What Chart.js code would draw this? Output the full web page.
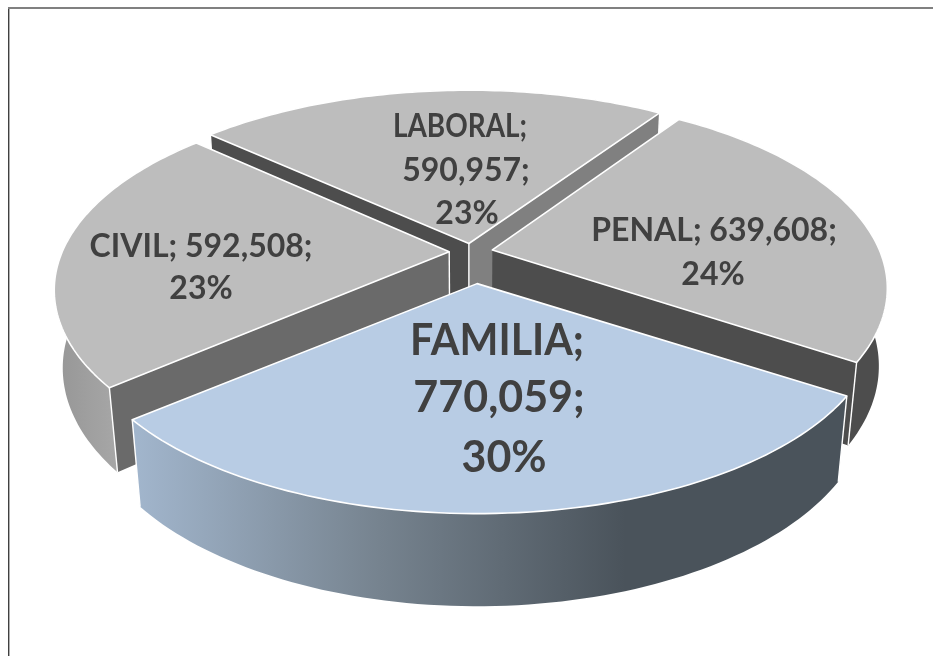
<!DOCTYPE html>
<html>
<head>
<meta charset="utf-8">
<title>Pie</title>
<script src="https://cdn.jsdelivr.net/npm/chart.js@4/dist/chart.umd.js"></script>
<style>
body { margin: 0; background: #fff; overflow: hidden; }
canvas { display: block; }
</style>
</head>
<body>
<canvas id="pieChart" width="933" height="656"></canvas>
<script>
const categories = ['FAMILIA', 'CIVIL', 'LABORAL', 'PENAL'];
const seriesValues = [770059, 592508, 590957, 639608];
const percents = [30, 23, 23, 24];

// exploded distance of each slice, in chart pixels
const sliceOffsets = [52, 17, 14, 17];
const topColors = ['#b8cce4', '#bdbdbd', '#bdbdbd', '#bdbdbd'];
const drawOrder = [2, 3, 1, 0];

// perspective used to lay the flat pie down
const view = { cx: 471, cy: 252, ax: 387, by: 184, p: 0.2, q: 0.02, h: 78 };
const sliceWidthScale = [1.015, 1, 1.022, 1];
const sliceShiftX = [2, 0, 0, 0];

function projectPoint(el, index, angle, radius) {
    const R = el.outerRadius;
    const mid = (el.startAngle + el.endAngle) / 2;
    const d = el.options.offset / R;
    const u = Math.cos(angle) * radius / R;
    const v = Math.sin(angle) * radius / R;
    const ox = view.ax * d * Math.cos(mid) + sliceShiftX[index];
    const oy = view.by * d * Math.sin(mid);
    const w = 1 - view.p * v;
    const x = view.ax * sliceWidthScale[index] * u / w;
    const y = view.by * v / w;
    const vv = v + d * Math.sin(mid);
    const ww = 1 - view.p * vv;
    const f = ww / (ww + view.q);
    return {
        top: { x: view.cx + ox + x, y: view.cy + oy + y },
        bottom: { x: view.cx + (ox + x) * f, y: view.cy + (oy + y) * f + view.h / (ww + view.q) }
    };
}

function fillPath(ctx, points, fill) {
    ctx.beginPath();
    points.forEach((pt, i) => (i ? ctx.lineTo(pt.x, pt.y) : ctx.moveTo(pt.x, pt.y)));
    ctx.closePath();
    ctx.fillStyle = fill;
    ctx.fill();
}

function edgeLine(ctx, a) {
    ctx.beginPath();
    ctx.moveTo(a.top.x, a.top.y);
    ctx.lineTo(a.bottom.x, a.bottom.y);
    ctx.stroke();
}

function horizontalGradient(ctx, x0, x1, stops) {
    const g = ctx.createLinearGradient(x0, 0, x1, 0);
    stops.forEach(s => g.addColorStop(s[0], s[1]));
    return g;
}

function wallStyles(ctx) {
    return [
        { outer: horizontalGradient(ctx, 133, 625, [[0, '#a2b6cd'], [0.5, '#76838f'], [1, '#4a535b']]), start: '#4d4d4d', end: '#6a6a6a' },
        { outer: horizontalGradient(ctx, 55, 122, [[0, '#969696'], [1, '#a8a8a8']]), start: '#6a6a6a', end: '#4d4d4d' },
        { outer: '#808080', start: '#4d4d4d', end: '#808080' },
        { outer: '#4d4d4d', start: '#808080', end: '#4d4d4d' }
    ];
}

function drawSlice(ctx, el, index, walls) {
    const steps = 80;
    const rim = [];
    for (let i = 0; i <= steps; i++) {
        const a = el.startAngle + (el.endAngle - el.startAngle) * i / steps;
        rim.push(projectPoint(el, index, a, el.outerRadius));
    }
    const apex = projectPoint(el, index, 0, 0);
    const first = rim[0];
    const last = rim[steps];

    fillPath(ctx, rim.map(r => r.top).concat(rim.map(r => r.bottom).reverse()), walls[index].outer);
    // a cut face only shows when it turns toward the viewer
    if (Math.sin(el.startAngle - Math.PI / 2) > 0) {
        fillPath(ctx, [apex.top, first.top, first.bottom, apex.bottom], walls[index].start);
    }
    if (Math.sin(el.endAngle + Math.PI / 2) > 0) {
        fillPath(ctx, [apex.top, last.top, last.bottom, apex.bottom], walls[index].end);
    }

    ctx.strokeStyle = '#ffffff';
    ctx.lineWidth = 1.4;
    edgeLine(ctx, first);
    edgeLine(ctx, last);
    if (index === 1 || index === 2) edgeLine(ctx, apex);

    const face = [apex.top].concat(rim.map(r => r.top));
    fillPath(ctx, face, topColors[index]);
    ctx.lineJoin = 'round';
    ctx.lineWidth = 1.6;
    ctx.stroke();
}

const pie3dPlugin = {
    id: 'pie3d',
    beforeDatasetDraw(chart) {
        const ctx = chart.ctx;
        const arcs = chart.getDatasetMeta(0).data;
        const walls = wallStyles(ctx);
        drawOrder.forEach(i => drawSlice(ctx, arcs[i], i, walls));
        return false;
    }
};

// line by line placement of the data labels: x, baseline, optional max width
const labelLayout = [
    { size: 43, lines: [[497, 355, 174], [499, 412], [504, 472]], split: 3 },
    { size: 32, lines: [[201, 257], [201, 299]], split: 2 },
    { size: 32, lines: [[460, 137, 134], [466, 181], [467, 224]], split: 3 },
    { size: 32, lines: [[714, 241], [713, 285]], split: 2 }
];

const labelsPlugin = {
    id: 'sliceLabels',
    afterDraw(chart) {
        const ctx = chart.ctx;
        ctx.save();
        ctx.fillStyle = '#404040';
        ctx.textAlign = 'center';
        ctx.textBaseline = 'alphabetic';
        categories.forEach((name, i) => {
            const layout = labelLayout[i];
            const amount = seriesValues[i].toLocaleString('en-US');
            const parts = layout.split === 3
                ? [name + ';', amount + ';', percents[i] + '%']
                : [name + '; ' + amount + ';', percents[i] + '%'];
            ctx.font = 'bold ' + layout.size + 'px Lato';
            parts.forEach((text, n) => {
                const spot = layout.lines[n];
                ctx.fillText(text, spot[0], spot[1], spot[2]);
            });
        });
        ctx.restore();
    }
};

const frameLines = {
    id: 'frameLines',
    beforeDraw(chart) {
        const ctx = chart.ctx;
        ctx.save();
        ctx.fillStyle = '#808080';
        ctx.fillRect(8, 7, 925, 2);
        ctx.fillStyle = '#404040';
        ctx.fillRect(8, 9, 1, 647);
        ctx.fillStyle = '#b0b0b0';
        ctx.fillRect(9, 9, 1, 647);
        ctx.restore();
    }
};

new Chart(document.getElementById('pieChart'), {
    type: 'pie',
    data: {
        labels: categories,
        datasets: [{
            data: seriesValues,
            offset: sliceOffsets,
            backgroundColor: topColors,
            borderWidth: 0
        }]
    },
    options: {
        responsive: false,
        animation: false,
        rotation: 123,
        plugins: { legend: { display: false }, tooltip: { enabled: false } }
    },
    plugins: [frameLines, pie3dPlugin, labelsPlugin]
});
</script>
</body>
</html>
